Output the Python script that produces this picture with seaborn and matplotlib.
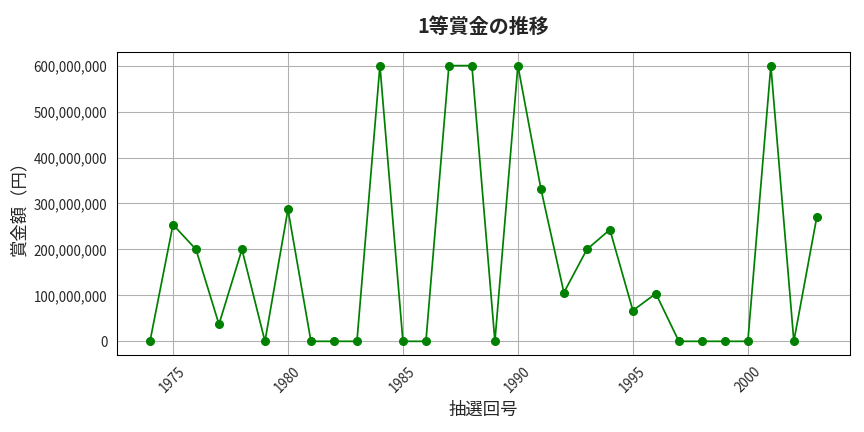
import numpy as np
import pandas as pd
import matplotlib.pyplot as plt
import matplotlib.ticker as mticker
import seaborn as sns

# Data
years = list(range(1974, 2004))
prize = [0, 254e6, 200e6, 37e6, 200e6, 0, 287e6, 0, 0, 0,
         600e6, 0, 0, 600e6, 600e6, 0, 600e6, 332e6, 106e6, 200e6,
         243e6, 67e6, 104e6, 0, 0, 0, 0, 600e6, 0, 271e6]

df = pd.DataFrame({'year': years, 'prize': prize})

sns.set_style('white')
plt.rcParams['font.family'] = ['Noto Sans CJK JP', 'DejaVu Sans']

fig, ax = plt.subplots(figsize=(9, 4.5), dpi=96)
sns.lineplot(data=df, x='year', y='prize', marker='o', color='green',
             markeredgecolor='green', markersize=6, linewidth=1.3, ax=ax)

ax.set_title('1等賞金の推移', fontsize=15, fontweight='bold', pad=14)
ax.set_xlabel('抽選回号', fontsize=13, labelpad=4)
ax.set_ylabel('賞金額（円）', fontsize=13)
ax.yaxis.set_major_formatter(mticker.FuncFormatter(lambda v, p: f'{int(v):,}'))
ax.tick_params(axis='x', rotation=45)
ax.grid(True, color='#b0b0b0', linewidth=0.8)
for s in ax.spines.values():
    s.set_color('black')

plt.subplots_adjust(left=0.135, right=0.984, top=0.88, bottom=0.178)
plt.savefig('out.png')
